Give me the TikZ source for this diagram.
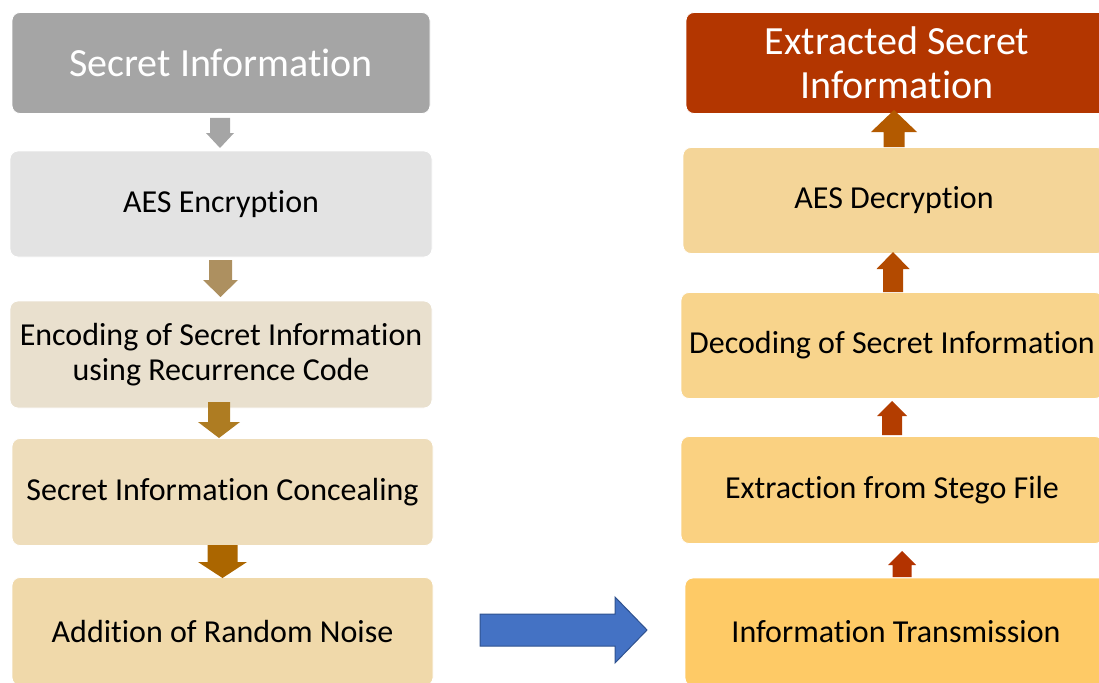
\documentclass[tikz,border=0pt]{standalone}
\usepackage{fontspec}
\setmainfont{Carlito}[RawFeature={-liga;-clig;-calt;-dlig;-rlig}]
\definecolor{cTitleL}{HTML}{A5A5A5}
\definecolor{cL2}{HTML}{E3E3E3}
\definecolor{cL3}{HTML}{E9E0CE}
\definecolor{cL4}{HTML}{EEDDBB}
\definecolor{cL5}{HTML}{F0D9AA}
\definecolor{cA1}{HTML}{A5A5A5}
\definecolor{cA2}{HTML}{AD9060}
\definecolor{cA3}{HTML}{AE7C22}
\definecolor{cA4}{HTML}{AB6600}
\definecolor{cTitleR}{HTML}{B33600}
\definecolor{cR2}{HTML}{F4D598}
\definecolor{cR3}{HTML}{F8D48C}
\definecolor{cR4}{HTML}{FAD181}
\definecolor{cR5}{HTML}{FECA66}
\definecolor{cB1}{HTML}{B35A00}
\definecolor{cB2}{HTML}{B34A00}
\definecolor{cB3}{HTML}{B33D00}
\definecolor{cB4}{HTML}{B33300}
\definecolor{cBlue}{HTML}{4472C4}
\definecolor{cBlueD}{HTML}{2F528F}
% block arrow: cx, ystart, yhead, shaft half, head half, ytip, colour
\newcommand\blockarr[7]{\fill[#7] (#1-#4,#2) -- (#1+#4,#2) -- (#1+#4,#3) -- (#1+#5,#3) -- (#1,#6) -- (#1-#5,#3) -- (#1-#4,#3) -- cycle;}
\tikzset{
  box/.style={rectangle, rounded corners=8pt, draw=white, line width=0.8pt, inner sep=0pt, align=center,
    font=\fontsize{32}{35}\selectfont},
  lbox/.style={box, minimum width=422pt, minimum height=106pt},
  rbox/.style={box, minimum width=422pt, minimum height=106pt},
  titlebox/.style={box, text=white, minimum height=101pt, font=\fontsize{40}{44}\selectfont},
}
\begin{document}
\begin{tikzpicture}[x=1pt,y=-1pt]
\useasboundingbox (0,0) rectangle (1099,682);
\clip (0,0) rectangle (1099,682);
% left column
\node[titlebox, fill=cTitleL, minimum width=418pt] (s1) at (221,63) {Secret Information};
\node[lbox, fill=cL2] (s2) at (221,204) {AES Encryption};
\node[lbox, fill=cL3, minimum height=107pt] (s3) at (221,354.5) {Encoding of Secret Information\\using Recurrence Code};
\node[lbox, fill=cL4, minimum width=421pt, minimum height=107pt] (s4) at (222.5,492) {Secret Information Concealing};
\node[lbox, fill=cL5, minimum width=421pt, minimum height=108pt] (s5) at (222.5,631.5) {Addition of Random Noise};
% right column
\node[titlebox, fill=cTitleR, minimum width=422pt] (r1) at (897,63) {Extracted Secret\\Information};
\node[rbox, fill=cR2] (r2) at (894,200.5) {AES Decryption};
\node[rbox, fill=cR3] (r3) at (892,345.5) {Decoding of Secret Information};
\node[rbox, fill=cR4, minimum height=107pt] (r4) at (892,490) {Extraction from Stego File};
\node[rbox, fill=cR5, minimum height=108pt] (r5) at (896,632) {Information Transmission};
% down arrows (left)
\blockarr{220}{118}{133}{10}{14}{148}{cA1}
\blockarr{220.5}{260}{280}{11.5}{17.5}{297}{cA2}
\blockarr{219}{402}{422}{11}{21}{438}{cA3}
\blockarr{222.5}{545}{562}{15}{24.5}{578}{cA4}
% up arrows (right)
\blockarr{894}{147}{132}{10.5}{23}{110}{cB1}
\blockarr{893}{292}{269}{10}{16.5}{252}{cB2}
\blockarr{892}{435}{416}{10}{15}{401}{cB3}
\blockarr{902}{577}{565}{9.5}{14}{551}{cB4}
% blue transfer arrow
\filldraw[fill=cBlue, draw=cBlueD, line width=1pt, line join=miter]
  (480,614) -- (615,614) -- (615,597) -- (647,630) -- (615,663) -- (615,646) -- (480,646) -- cycle;
\end{tikzpicture}
\end{document}
